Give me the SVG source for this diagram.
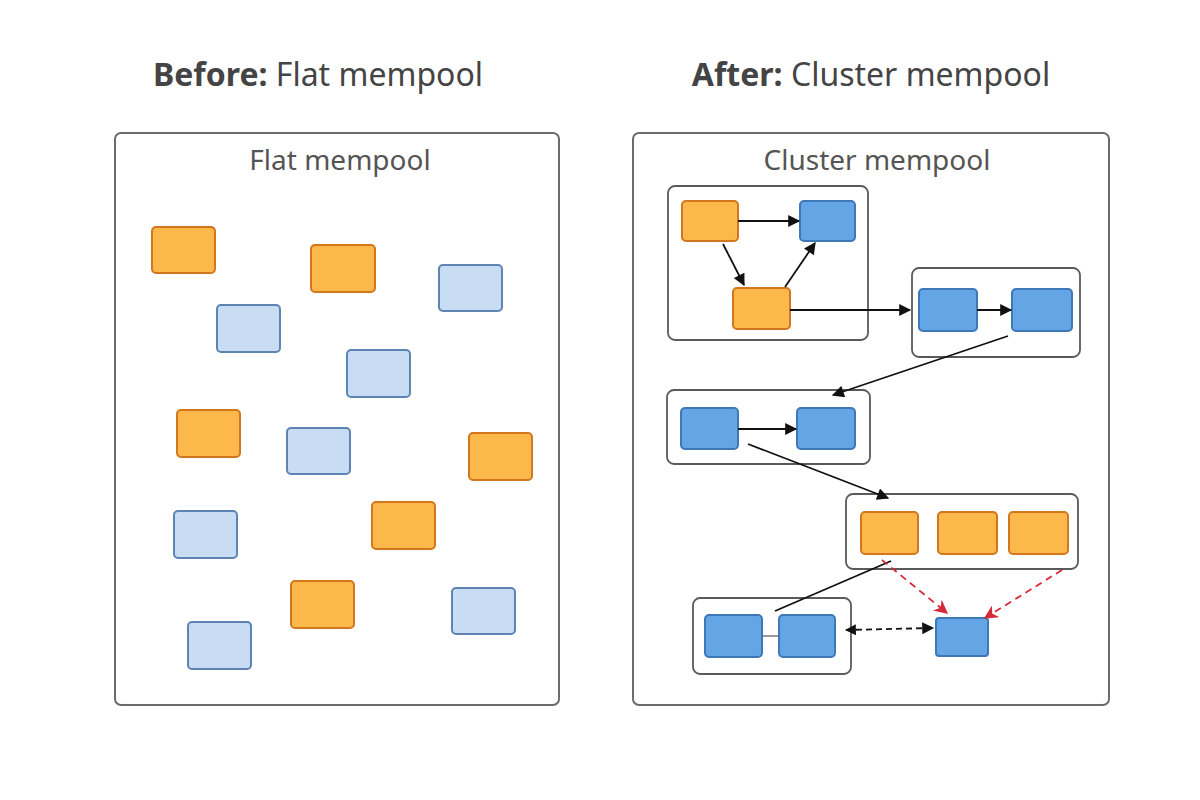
<svg xmlns="http://www.w3.org/2000/svg" width="1200" height="800" viewBox="0 0 1200 800">
<style>
.title{font-family:"Noto Sans","Open Sans",sans-serif;font-size:32px;fill:#444;}
.title .b{font-weight:bold;}
.plabel{font-family:"Noto Sans","Open Sans",sans-serif;font-size:28px;fill:#555;}
.panel{fill:#fff;stroke:#6b6b6b;stroke-width:2;}
.cluster{fill:#fff;stroke:#5a5a5a;stroke-width:1.8;}
.org{fill:#FDB84C;stroke:#D2771E;stroke-width:2;}
.lb{fill:#C8DCF4;stroke:#5E84B3;stroke-width:2;}
.bl{fill:#64A5E6;stroke:#3E78B6;stroke-width:2;}
.edge{fill:none;stroke:#111;stroke-width:1.8;}
.red{fill:none;stroke:#D42A3A;stroke-width:1.8;stroke-dasharray:7 5;}
.dash{fill:none;stroke:#111;stroke-width:1.8;stroke-dasharray:6 4;}
</style>
<defs>
<marker id="ah" viewBox="0 0 10 10" refX="9" refY="5" markerWidth="13" markerHeight="12" markerUnits="userSpaceOnUse" orient="auto"><path d="M0,0 L10,5 L0,10 z" fill="#111"/></marker>
<marker id="ahs" viewBox="0 0 10 10" refX="9" refY="5" markerWidth="11" markerHeight="11" markerUnits="userSpaceOnUse" orient="auto-start-reverse"><path d="M0,0 L10,5 L0,10 z" fill="#111"/></marker>
<marker id="ahr" viewBox="0 0 10 10" refX="9" refY="5" markerWidth="14" markerHeight="14" markerUnits="userSpaceOnUse" orient="auto"><path d="M0,0 L10,5 L0,10 L3,5 z" fill="#D42A3A"/></marker>
</defs>
<rect width="1200" height="800" fill="#fff"/>

<g id="titles">
<text class="title" x="318" y="86" text-anchor="middle"><tspan class="b">Before:</tspan> Flat mempool</text>
<text class="title" x="871" y="86" text-anchor="middle"><tspan class="b">After:</tspan> Cluster mempool</text>
</g>

<g id="panel-flat">
<rect class="panel" x="115" y="133" width="444" height="572" rx="6"/>
<text class="plabel" x="340" y="170" text-anchor="middle">Flat mempool</text>
</g>
<g id="flat-tx">
<rect class="org" x="152" y="227" width="63" height="46" rx="4"/>
<rect class="org" x="311" y="245" width="64" height="47" rx="4"/>
<rect class="lb" x="439" y="265" width="63" height="46" rx="4"/>
<rect class="lb" x="217" y="305" width="63" height="47" rx="4"/>
<rect class="lb" x="347" y="350" width="63" height="47" rx="4"/>
<rect class="org" x="177" y="410" width="63" height="47" rx="4"/>
<rect class="lb" x="287" y="428" width="63" height="46" rx="4"/>
<rect class="org" x="469" y="433" width="63" height="47" rx="4"/>
<rect class="lb" x="174" y="511" width="63" height="47" rx="4"/>
<rect class="org" x="372" y="502" width="63" height="47" rx="4"/>
<rect class="org" x="291" y="581" width="63" height="47" rx="4"/>
<rect class="lb" x="452" y="588" width="63" height="46" rx="4"/>
<rect class="lb" x="188" y="622" width="63" height="47" rx="4"/>
</g>

<g id="panel-cluster">
<rect class="panel" x="633" y="133" width="476" height="572" rx="6"/>
<text class="plabel" x="877" y="170" text-anchor="middle">Cluster mempool</text>
</g>

<g id="cluster1">
<rect class="cluster" x="668" y="186" width="200" height="154" rx="7"/>
<rect class="org" x="682" y="201" width="56" height="40" rx="4"/>
<rect class="bl" x="800" y="201" width="55" height="40" rx="4"/>
<rect class="org" x="733" y="288" width="57" height="41" rx="4"/>
</g>
<g id="cluster2">
<rect class="cluster" x="912" y="268" width="168" height="89" rx="7"/>
<rect class="bl" x="919" y="289" width="58" height="42" rx="4"/>
<rect class="bl" x="1012" y="289" width="60" height="42" rx="4"/>
</g>
<g id="cluster3">
<rect class="cluster" x="667" y="390" width="203" height="74" rx="7"/>
<rect class="bl" x="681" y="408" width="57" height="41" rx="4"/>
<rect class="bl" x="797" y="408" width="58" height="41" rx="4"/>
</g>
<g id="cluster4">
<rect class="cluster" x="846" y="494" width="232" height="75" rx="7"/>
<rect class="org" x="861" y="512" width="57" height="42" rx="4"/>
<rect class="org" x="938" y="512" width="59" height="42" rx="4"/>
<rect class="org" x="1009" y="512" width="59" height="42" rx="4"/>
</g>
<g id="cluster5">
<rect class="cluster" x="693" y="598" width="158" height="76" rx="7"/>
<line x1="762" y1="636" x2="779" y2="636" stroke="#555" stroke-width="1.2"/>
<rect class="bl" x="705" y="615" width="57" height="42" rx="4"/>
<rect class="bl" x="779" y="615" width="56" height="42" rx="4"/>
</g>
<g id="lone-tx">
<rect class="bl" x="936" y="618" width="52" height="38" rx="3"/>
</g>

<g id="connectors">
<line class="edge" x1="738" y1="221" x2="799" y2="221" marker-end="url(#ah)"/>
<line class="edge" x1="723" y1="244" x2="744" y2="285" marker-end="url(#ah)"/>
<line class="edge" x1="785" y1="287" x2="815" y2="243" marker-end="url(#ah)"/>
<line class="edge" x1="790" y1="310" x2="910" y2="310" marker-end="url(#ah)"/>
<line class="edge" x1="977" y1="310" x2="1011" y2="310" marker-end="url(#ah)"/>
<line class="edge" x1="1008" y1="336" x2="833" y2="395" marker-end="url(#ah)"/>
<line class="edge" x1="738" y1="429" x2="796" y2="429" marker-end="url(#ah)"/>
<line class="edge" x1="748" y1="444" x2="888" y2="498" marker-end="url(#ah)"/>
<line class="edge" x1="891" y1="561" x2="775" y2="611"/>
<line class="red" x1="882" y1="560" x2="947" y2="613" marker-end="url(#ahr)"/>
<line class="red" x1="1062" y1="570" x2="985" y2="618" marker-end="url(#ahr)"/>
<line class="dash" x1="846" y1="630" x2="933" y2="628" marker-start="url(#ahs)" marker-end="url(#ah)"/>
</g>
</svg>
